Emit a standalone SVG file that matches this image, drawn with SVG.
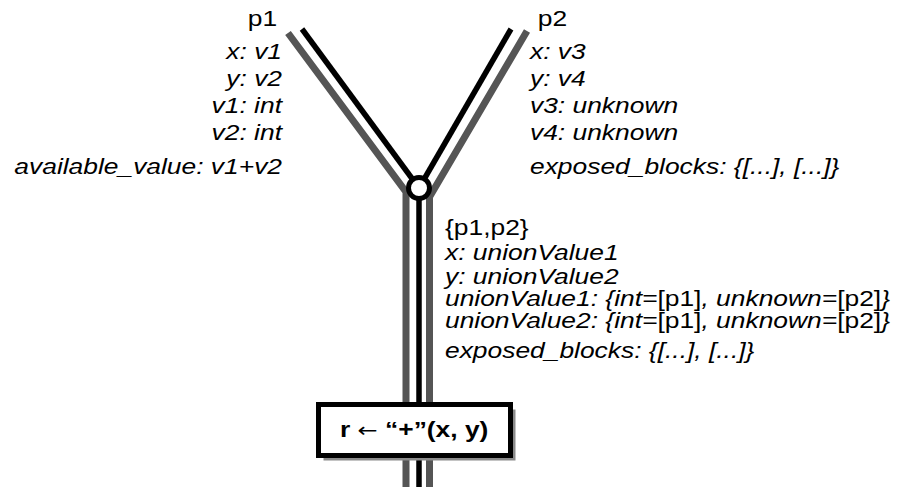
<svg xmlns="http://www.w3.org/2000/svg" width="898" height="489" viewBox="0 0 898 489">
<style>
.g{fill:none;stroke:#555;stroke-width:7;stroke-linejoin:miter}
.k{fill:none;stroke:#000;stroke-width:5.5}
text{font-family:"Liberation Sans",Arial,Helvetica,sans-serif;font-size:22px;fill:#000}
.i{font-style:italic}
.u{font-style:normal}
.b{font-weight:bold}
.arr{font-family:"DejaVu Sans",sans-serif;font-weight:normal;font-size:20px}
</style>
<rect width="898" height="489" fill="#fff"/>
<g id="connectors">
<polyline class="g" points="288,33 406,192 406,487"/>
<polyline class="g" points="527,31 429.5,197 429.5,487"/>
<line class="k" x1="302" y1="29" x2="419" y2="188"/>
<line class="k" x1="511" y1="29" x2="419" y2="188"/>
<line class="k" x1="419" y1="188" x2="419" y2="487"/>
</g>
<g id="junction">
<circle cx="419" cy="188" r="10.5" fill="#fff" stroke="#000" stroke-width="5"/>
</g>
<g id="p1">
<g transform="translate(282,0) scale(1.2,1)">
<text x="-4" y="26" text-anchor="end">p1</text>
<text class="i" x="0" y="59" text-anchor="end">x: v1</text>
<text class="i" x="0" y="86" text-anchor="end">y: v2</text>
<text class="i" x="0" y="113" text-anchor="end">v1: int</text>
<text class="i" x="0" y="140" text-anchor="end">v2: int</text>
<text class="i" x="0" y="174" text-anchor="end">available_value: v1+v2</text>
</g>
</g>
<g id="p2">
<g transform="translate(530,0) scale(1.2,1)">
<text x="6.5" y="26">p2</text>
<text class="i" x="0" y="59">x: v3</text>
<text class="i" x="0" y="86">y: v4</text>
<text class="i" x="0" y="113">v3: unknown</text>
<text class="i" x="0" y="140">v4: unknown</text>
<text class="i" x="0" y="174">exposed_blocks: {[...], [...]}</text>
</g>
</g>
<g id="merged">
<g transform="translate(445,0) scale(1.2,1)">
<text x="0" y="235">{p1,p2}</text>
<text class="i" x="0" y="260">x: unionValue1</text>
<text class="i" x="0" y="284">y: unionValue2</text>
<text class="i" x="0" y="306">unionValue1: {int=<tspan class="u">[p1]</tspan>, unknown=<tspan class="u">[p2]</tspan>}</text>
<text class="i" x="0" y="328">unionValue2: {int=<tspan class="u">[p1]</tspan>, unknown=<tspan class="u">[p2]</tspan>}</text>
<text class="i" x="0" y="358">exposed_blocks: {[...], [...]}</text>
</g>
</g>
<g id="op">
<rect x="323.5" y="409.5" width="192" height="51" fill="#8a8a8a"/>
<rect x="318.5" y="404.5" width="192" height="51" fill="#fff" stroke="#000" stroke-width="5"/>
<g transform="translate(340,0) scale(1.2,1)">
<text class="b" x="0" y="437">r <tspan class="arr">←</tspan> “+”(x, y)</text>
</g>
</g>
</svg>
